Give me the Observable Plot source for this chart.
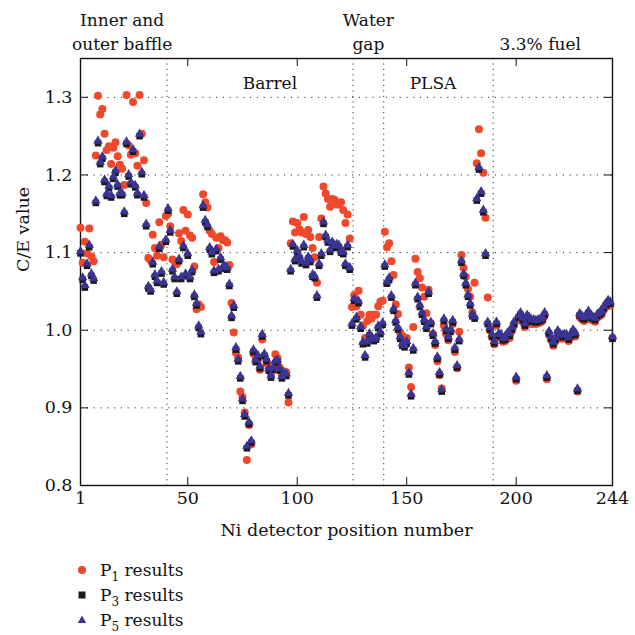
<!DOCTYPE html>
<html><head><meta charset="utf-8">
<script src="https://cdn.jsdelivr.net/npm/d3@7"></script>
<script src="https://cdn.jsdelivr.net/npm/@observablehq/plot@0.6"></script>
<style>
html,body{margin:0;padding:0;background:#fff;}
body{font-family:"DejaVu Serif","Liberation Serif",serif;color:#111;width:635px;}
svg text{font-family:"DejaVu Serif","Liberation Serif",serif;}
#legend{position:relative;height:85px;font-size:17px;}
.row{position:absolute;left:74px;height:20px;display:flex;align-items:center;}
.row svg{width:16px;height:16px;margin-right:10px;}
.row sub{font-size:12px;vertical-align:-5px;line-height:0;}
</style></head><body>
<div id="chart"></div>
<div id="legend"></div>
<script>
// C/E values by Ni detector position (1..244)
const p1 = [
1.132,1.087,1.114,1.099,1.131,1.095,1.089,1.225,1.302,1.278,
1.285,1.253,1.232,1.237,1.214,1.235,1.242,1.224,1.213,1.208,
1.187,1.303,1.238,1.226,1.294,1.228,1.212,1.303,1.253,1.219,
1.164,1.093,1.090,1.123,1.106,1.096,1.139,1.110,1.094,1.147,
1.150,1.134,1.091,1.089,1.085,1.125,1.115,1.155,1.128,1.149,
1.122,1.119,1.082,1.027,1.033,1.030,1.175,1.165,1.158,1.128,
1.124,1.088,1.119,1.106,1.121,1.116,1.116,1.113,1.084,1.035,
0.997,0.971,0.965,0.921,0.914,0.894,0.833,0.878,0.853,0.970,
0.965,0.962,0.949,0.988,0.966,0.957,0.954,0.945,0.955,0.969,
0.964,0.952,0.944,0.947,0.946,0.907,1.112,1.140,1.126,1.138,
1.130,1.126,1.146,1.124,1.129,1.120,1.106,1.094,1.061,1.120,
1.144,1.185,1.176,1.169,1.159,1.169,1.168,1.162,1.162,1.165,
1.155,1.138,1.149,1.118,1.030,1.045,1.031,1.051,1.020,1.006,
0.990,1.012,1.020,1.015,1.020,1.020,1.031,1.037,1.038,1.127,
1.107,1.112,1.089,1.071,1.033,1.021,0.997,0.993,0.989,0.990,
0.952,0.927,1.004,1.092,1.075,1.067,1.055,1.043,1.022,1.052,
1.009,0.995,0.981,0.960,0.942,0.925,1.006,0.995,0.987,0.998,
1.008,0.972,0.951,0.998,1.097,1.080,1.069,1.053,1.043,1.023,
1.061,1.215,1.259,1.228,1.203,1.145,1.042,1.000,0.991,0.982,
1.006,0.991,0.990,0.985,0.986,0.992,0.990,0.999,1.006,0.935,
1.014,1.018,1.011,1.004,1.014,1.012,1.008,1.009,1.008,1.009,
1.010,1.012,1.018,0.937,0.994,0.987,0.980,0.986,0.995,0.991,
0.989,0.990,0.990,0.986,0.991,0.996,0.992,0.921,1.017,1.014,
1.012,1.016,1.020,1.014,1.013,1.011,1.016,1.018,1.020,1.026,
1.030,1.034,1.032,0.990];
const p3 = [
1.101,1.067,1.057,1.085,1.109,1.072,1.066,1.166,1.243,1.216,
1.223,1.193,1.175,1.185,1.173,1.197,1.205,1.187,1.176,1.176,
1.152,1.242,1.200,1.190,1.232,1.186,1.176,1.252,1.203,1.173,
1.136,1.056,1.052,1.087,1.071,1.063,1.107,1.075,1.061,1.116,
1.156,1.128,1.078,1.068,1.049,1.091,1.068,1.108,1.072,1.098,
1.068,1.077,1.045,1.034,1.005,0.997,1.160,1.141,1.135,1.106,
1.100,1.076,1.104,1.078,1.093,1.081,1.082,1.080,1.059,1.018,
1.031,0.977,0.962,0.940,0.911,0.891,0.850,0.881,0.857,0.974,
0.961,0.967,0.953,0.994,0.969,0.962,0.950,0.941,0.951,0.960,
0.961,0.950,0.940,0.944,0.943,0.918,1.078,1.110,1.091,1.102,
1.095,1.088,1.109,1.086,1.094,1.090,1.071,1.069,1.044,1.085,
1.098,1.139,1.122,1.115,1.103,1.113,1.108,1.110,1.109,1.102,
1.100,1.085,1.109,1.080,1.008,1.040,1.016,1.037,1.004,0.984,
0.967,0.985,0.995,0.990,0.988,0.990,1.005,0.997,1.009,1.084,
1.062,1.067,1.044,1.027,1.012,1.003,0.991,0.982,0.980,0.985,
0.945,0.917,0.976,1.060,1.042,1.032,1.022,1.013,1.004,1.049,
1.010,0.995,0.985,0.965,0.945,0.923,1.014,1.001,0.991,1.000,
1.012,0.977,0.954,0.988,1.089,1.072,1.060,1.045,1.034,1.020,
1.017,1.169,1.209,1.178,1.154,1.098,1.010,1.003,0.994,0.985,
1.010,0.995,0.994,0.989,0.990,0.996,0.995,1.003,1.010,0.939,
1.018,1.022,1.015,1.008,1.019,1.016,1.013,1.013,1.012,1.013,
1.014,1.016,1.022,0.941,0.998,0.991,0.984,0.990,0.999,0.995,
0.993,0.994,0.994,0.990,0.995,1.000,0.996,0.924,1.021,1.018,
1.016,1.020,1.024,1.018,1.017,1.015,1.020,1.022,1.024,1.030,
1.034,1.038,1.036,0.991];
const p5 = [
1.101,1.067,1.057,1.085,1.109,1.072,1.066,1.166,1.243,1.216,
1.223,1.193,1.175,1.185,1.173,1.197,1.205,1.187,1.176,1.176,
1.152,1.242,1.200,1.190,1.232,1.186,1.176,1.252,1.203,1.173,
1.136,1.056,1.052,1.087,1.071,1.063,1.107,1.075,1.061,1.116,
1.156,1.128,1.078,1.068,1.049,1.091,1.068,1.108,1.072,1.098,
1.068,1.077,1.045,1.034,1.005,0.997,1.160,1.141,1.135,1.106,
1.100,1.076,1.104,1.078,1.093,1.081,1.082,1.080,1.059,1.018,
1.031,0.977,0.962,0.940,0.911,0.891,0.850,0.881,0.857,0.974,
0.961,0.967,0.953,0.994,0.969,0.962,0.950,0.941,0.951,0.960,
0.961,0.950,0.940,0.944,0.943,0.918,1.078,1.110,1.091,1.102,
1.095,1.088,1.109,1.086,1.094,1.090,1.071,1.069,1.044,1.085,
1.098,1.139,1.122,1.115,1.103,1.113,1.108,1.110,1.109,1.102,
1.100,1.085,1.109,1.080,1.008,1.040,1.016,1.037,1.004,0.984,
0.967,0.985,0.995,0.990,0.988,0.990,1.005,0.997,1.009,1.084,
1.062,1.067,1.044,1.027,1.012,1.003,0.991,0.982,0.980,0.985,
0.945,0.917,0.976,1.060,1.042,1.032,1.022,1.013,1.004,1.049,
1.010,0.995,0.985,0.965,0.945,0.923,1.014,1.001,0.991,1.000,
1.012,0.977,0.954,0.988,1.089,1.072,1.060,1.045,1.034,1.020,
1.017,1.169,1.209,1.178,1.154,1.098,1.010,1.003,0.994,0.985,
1.010,0.995,0.994,0.989,0.990,0.996,0.995,1.003,1.010,0.939,
1.018,1.022,1.015,1.008,1.019,1.016,1.013,1.013,1.012,1.013,
1.014,1.016,1.022,0.941,0.998,0.991,0.984,0.990,0.999,0.995,
0.993,0.994,0.994,0.990,0.995,1.000,0.996,0.924,1.021,1.018,
1.016,1.020,1.024,1.018,1.017,1.015,1.020,1.022,1.024,1.030,
1.034,1.038,1.036,0.991];

const xTickValues = [1, 50, 100, 150, 200, 244];
const xInnerTicks = [50, 100, 150, 200];
const yTickValues = [0.8, 0.9, 1.0, 1.1, 1.2, 1.3];
const yGridValues = [0.9, 1.0, 1.1, 1.2, 1.3];
const regionBounds = [40.5, 125.5, 139.5, 189.5];
const topLabels = ["Inner and\nouter baffle", "Water\ngap", "3.3% fuel"];
const topLabelPos = [20, 132.5, 211];
const innerLabels = ["Barrel", "PLSA"];
const innerLabelPos = [87.5, 162];
const seriesNames = ["P1 results", "P3 results", "P5 results"];

const rows = (arr) => arr.map((v, i) => ({pos: i + 1, v}));

const W = 635, H = 550, mL = 80, mR = 23, mT = 58, mB = 65;
const plotW = W - mL - mR, plotH = H - mT - mB;
const serif = "'DejaVu Serif', 'Liberation Serif', serif";
const RED = "#f0482a", BLUE = "#3a3494", BLACK = "#1b1b1b";

const chart = Plot.plot({
  width: W, height: H,
  marginLeft: mL, marginRight: mR, marginTop: mT, marginBottom: mB,
  style: `font-family: ${serif}; font-size: 17px; color: #111; background: #fff; overflow: visible;`,
  x: {domain: [1, 244]},
  y: {domain: [0.8, 1.35]},
  marks: [
    Plot.ruleY(yGridValues, {stroke: "#333", strokeWidth: 1, strokeDasharray: "1.2,5.6"}),
    Plot.ruleX(regionBounds, {stroke: "#333", strokeWidth: 1, strokeDasharray: "1.2,4.2"}),
    Plot.ruleY(yTickValues, {stroke: "#111", strokeWidth: 1, insetRight: plotW - 8}),
    Plot.ruleY(yTickValues, {stroke: "#111", strokeWidth: 1, insetLeft: plotW - 8}),
    Plot.ruleX(xInnerTicks, {stroke: "#111", strokeWidth: 1, insetTop: plotH - 8}),
    Plot.ruleX(xInnerTicks, {stroke: "#111", strokeWidth: 1, insetBottom: plotH - 8}),
    Plot.frame({stroke: "#111", strokeWidth: 1.4}),
    Plot.axisX(xTickValues, {tickSize: 0, tickPadding: 6, label: null, fontSize: 17.5, fontFamily: serif}),
    Plot.axisY(yTickValues, {tickSize: 0, tickPadding: 8, label: null, fontSize: 17.5, fontFamily: serif, tickFormat: d3.format(".1f")}),
    Plot.dot(rows(p1), {x: "pos", y: "v", symbol: "circle", r: 4, fill: RED, stroke: "none"}),
    Plot.dot(rows(p3), {x: "pos", y: "v", symbol: "square", r: 3.7, fill: BLACK, stroke: "none", dy: 1.6}),
    Plot.dot(rows(p5), {x: "pos", y: "v", symbol: "triangle", r: 3.5, fill: BLUE, stroke: "none", dy: -0.6}),
    Plot.text(topLabels, {x: (d, i) => topLabelPos[i], text: d => d, frameAnchor: "top", lineAnchor: "bottom", dy: -9, lineHeight: 1.4, fontSize: 17, fontFamily: serif, fill: "#111"}),
    Plot.text(innerLabels, {x: (d, i) => innerLabelPos[i], text: d => d, frameAnchor: "top", lineAnchor: "bottom", dy: 30, fontSize: 17, fontFamily: serif, fill: "#111"}),
    Plot.text(["Ni detector position number"], {text: d => d, frameAnchor: "bottom", lineAnchor: "bottom", dy: 50, fontSize: 17.5, fontFamily: serif, fill: "#111"}),
    Plot.text(["C/E value"], {text: d => d, frameAnchor: "left", rotate: -90, dx: -57, fontSize: 17.5, fontFamily: serif, fill: "#111"})
  ]
});
document.getElementById("chart").appendChild(chart);

// legend
const legend = document.getElementById("legend");
const symbols = [
  `<circle cx="8" cy="8" r="4" fill="${RED}"/>`,
  `<rect x="4.5" y="4.5" width="7" height="7" fill="${BLACK}"/>`,
  `<path d="M8 3.6 L12.2 11 L3.8 11 Z" fill="${BLUE}"/>`
];
seriesNames.forEach((name, i) => {
  const row = document.createElement("div");
  row.className = "row";
  row.style.top = (10 + i * 25) + "px";
  const m = name.match(/^P(\d)(.*)$/);
  row.innerHTML = `<svg viewBox="0 0 16 16">${symbols[i]}</svg><span>P<sub>${m[1]}</sub>${m[2]}</span>`;
  legend.appendChild(row);
});
</script>
</body></html>
